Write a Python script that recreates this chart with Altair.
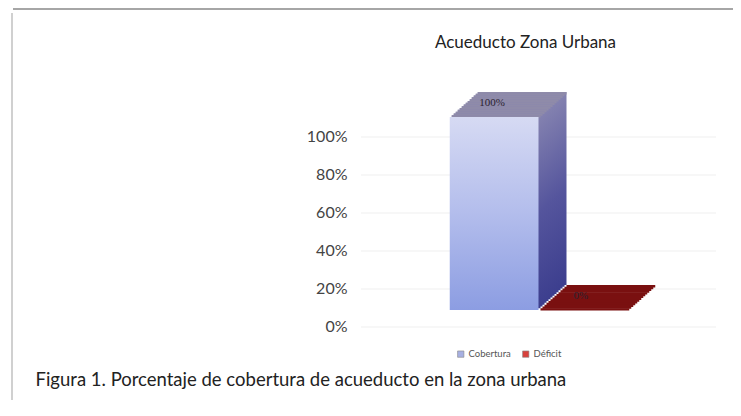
import altair as alt
import pandas as pd

# ---- data ----
categories = ["Cobertura", "Déficit"]
values = [1.0, 0.0]
value_labels = ["100%", "0%"]
tick_values = [0.0, 0.2, 0.4, 0.6, 0.8, 1.0]

top_colors = ["#8f8ba9", "#7a1010"]
legend_colors = ["#a7b0e2", "#d8423d"]

title_text = "Acueducto Zona Urbana"
caption_text = "Figura 1. Porcentaje de cobertura de acueducto en la zona urbana"

df = pd.DataFrame({"cat": categories, "val": values, "lab": value_labels})
ticks_df = pd.DataFrame({"t": tick_values})
frame_df = pd.DataFrame({"a": [0]})

W, H = 355, 255
DX, DY = 28, 25          # depth of the pseudo-3D extrusion, in pixels
N = 14                   # number of depth slices
SX, SY = DX / N, DY / N
FONT = "Lato"

bar_scale = alt.Scale(domain=[-0.1036, 1.2176], zero=False, nice=False)
axis_scale = alt.Scale(domain=[-0.0158, 1.3263], zero=False, nice=False)
x_scale = alt.Scale(domain=categories, paddingInner=0, paddingOuter=1)

x_enc = alt.X(
    "cat:N", scale=x_scale,
    axis=alt.Axis(labels=False, ticks=False, domain=False, grid=False,
                  title=caption_text, titleX=-326, titleY=55,
                  titleAlign="left", titleAnchor="start", titleBaseline="alphabetic",
                  titleFont=FONT, titleFontSize=18.5, titleFontWeight="normal",
                  titleColor="#222222"))
y_bar = alt.Y("val:Q", scale=bar_scale, axis=None)
cap_color = alt.Color("cat:N", scale=alt.Scale(domain=categories, range=top_colors), legend=None)

front_grad = alt.Gradient(gradient="linear", x1=0, x2=0, y1=0, y2=1,
                          stops=[alt.GradientStop(color="#d6daf3", offset=0),
                                 alt.GradientStop(color="#b3bdec", offset=0.5),
                                 alt.GradientStop(color="#8c9de2", offset=1)])
side_grad = alt.Gradient(gradient="linear", x1=0, x2=0, y1=0, y2=1,
                         stops=[alt.GradientStop(color="#8482b0", offset=0),
                                alt.GradientStop(color="#55559d", offset=0.5),
                                alt.GradientStop(color="#3c3e8e", offset=1)])

grid_layer = alt.Chart(ticks_df).mark_rule(color="#efefef", strokeWidth=1).encode(
    y=alt.Y("t:Q", scale=axis_scale,
            axis=alt.Axis(orient="left", format=".0%", values=tick_values,
                          labelFont=FONT, labelFontSize=16, labelColor="#444",
                          ticks=False, domain=False, grid=False, title=None,
                          labelPadding=14))
)

# depth slices, drawn from back to front
slices = []
for k in range(N, 0, -1):
    body = alt.Chart(df).mark_bar(
        xOffset=k * SX, yOffset=-k * SY, y2Offset=-k * SY, color=side_grad
    ).encode(x=x_enc, y=y_bar, y2=alt.datum(0))
    cap = alt.Chart(df).mark_bar(
        xOffset=k * SX, yOffset=-k * SY, y2Offset=-(k - 1) * SY + 0.6
    ).encode(x=x_enc, y=y_bar, y2=alt.Y2("val:Q"), color=cap_color)
    slices += [body, cap]

front_layer = alt.Chart(df).mark_bar(color=front_grad).encode(
    x=x_enc, y=y_bar, y2=alt.datum(0),
)

text_layer = alt.Chart(df).mark_text(
    dy=-14, dx=-2, font="Liberation Serif", fontSize=11, color="#2a2230"
).encode(x=x_enc, y=y_bar, text="lab:N")

bars = alt.layer(*slices, front_layer, text_layer)

legend_layer = alt.Chart(df).mark_square(opacity=0, size=10).encode(
    x=x_enc,
    y=y_bar,
    color=alt.Color("cat:N", scale=alt.Scale(domain=categories, range=legend_colors),
                    legend=alt.Legend(orient="none", legendX=95, legendY=274,
                                      direction="horizontal", title=None,
                                      symbolType="square", symbolSize=40,
                                      symbolOpacity=1, symbolStrokeColor="#888",
                                      symbolStrokeWidth=0.6,
                                      labelFont=FONT, labelFontSize=9.5,
                                      labelColor="#555", columnPadding=10,
                                      labelOffset=3)),
)

frame_top = alt.Chart(frame_df).mark_rule(color="#a6a6a6", strokeWidth=2).encode(
    x=alt.value(-348), x2=alt.value(380), y=alt.value(-66)
)
frame_left = alt.Chart(frame_df).mark_rule(color="#d0d0d0", strokeWidth=2).encode(
    x=alt.value(-349), y=alt.value(-62), y2=alt.value(333)
)

chart = alt.layer(
    grid_layer, bars, legend_layer, frame_top, frame_left
).resolve_scale(
    y="independent", color="independent"
).properties(
    width=W, height=H,
    autosize=alt.AutoSizeParams(type="none"),
    padding={"left": 353, "top": 67, "right": 17, "bottom": 70},
    background="white",
    title=alt.TitleParams(title_text, anchor="middle", frame="group", dx=-13,
                          dy=82, offset=25, baseline="alphabetic", font=FONT,
                          fontSize=17, fontWeight="normal", color="#222"),
).configure_view(stroke="transparent", strokeWidth=0)

chart.save("out.html", embed_options={"renderer": "svg", "actions": False})
